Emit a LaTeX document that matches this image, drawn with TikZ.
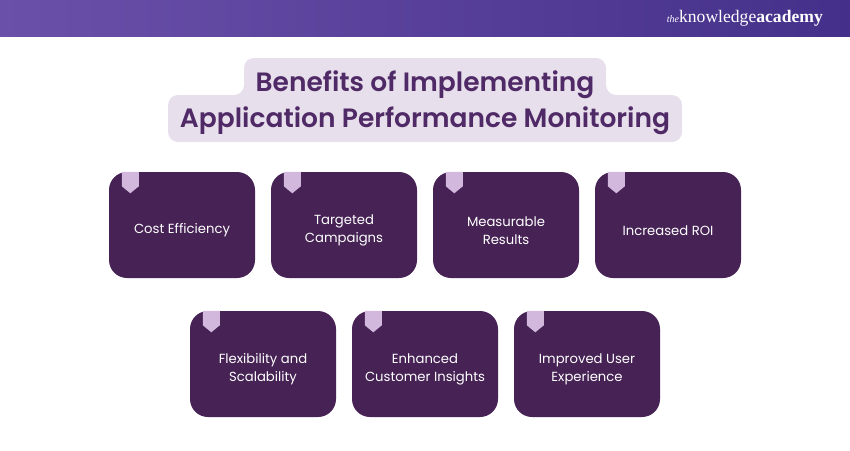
\documentclass[tikz,border=0pt]{standalone}
\usepackage{fontspec}
\setmainfont{Poppins}
\newfontfamily\titlefont{Poppins SemiBold}
\newfontfamily\logofont{Liberation Serif}
\definecolor{headleft}{HTML}{6B50A9}
\definecolor{headright}{HTML}{44308A}
\definecolor{titleback}{HTML}{E8DFEC}
\definecolor{titletext}{HTML}{4F2A66}
\definecolor{cardback}{HTML}{462255}
\definecolor{ribboncol}{HTML}{D1B8DC}
\tikzset{
    card/.style={fill=cardback, rounded corners=18pt, minimum width=146pt, minimum height=106pt, inner sep=0pt},
    cardtext/.style={text=white, align=center, inner sep=0pt, yshift=-5.5pt, font=\fontsize{13.2}{18}\selectfont},
    ribbon/.style={fill=ribboncol}
}
\newcommand{\ribbonat}[1]{\fill[ribbon] ([xshift=13pt]#1.north west) -- ++(17,0) -- ++(0,14.5) -- ++(-8.5,7) -- ++(-8.5,-7) -- cycle;}
\begin{document}
\begin{tikzpicture}[x=1pt,y=-1pt]
    \useasboundingbox (0,0) rectangle (850,450);
    \shade[left color=headleft, right color=headright] (0,0) rectangle (850,36);
    \node[text=white, anchor=east, inner sep=0pt, font=\logofont] (logo) at (823,18) {{\fontsize{10}{10}\selectfont\itshape the}{\fontsize{17.6}{18}\selectfont knowledge\textbf{academy}}};
    \fill[titleback, rounded corners=10pt] (244,58) -- (606,58) -- (606,95) -- (682,95) -- (682,142) -- (168,142) -- (168,95) -- (244,95) -- cycle;
    \node[text=titletext, align=center, inner sep=0pt, font=\fontsize{26.5}{36.5}\titlefont] (title) at (425,102.5) {Benefits of Implementing\\Application Performance Monitoring};
    % top row
    \node[card, label={[cardtext]center:{Cost Efficiency}}] (cost) at (182,225) {};
    \node[card, label={[cardtext]center:{Targeted\\Campaigns}}] (campaigns) at (344,225) {};
    \node[card, label={[cardtext]center:{Measurable\\Results}}] (results) at (506,225) {};
    \node[card, label={[cardtext]center:{Increased ROI}}] (roi) at (668,225) {};
    % bottom row
    \node[card, label={[cardtext]center:{Flexibility and\\Scalability}}] (flex) at (263,364) {};
    \node[card, label={[cardtext]center:{Enhanced\\Customer Insights}}] (insights) at (425,364) {};
    \node[card, label={[cardtext]center:{Improved User\\Experience}}] (experience) at (587,364) {};
    \ribbonat{cost}
    \ribbonat{campaigns}
    \ribbonat{results}
    \ribbonat{roi}
    \ribbonat{flex}
    \ribbonat{insights}
    \ribbonat{experience}
\end{tikzpicture}
\end{document}
